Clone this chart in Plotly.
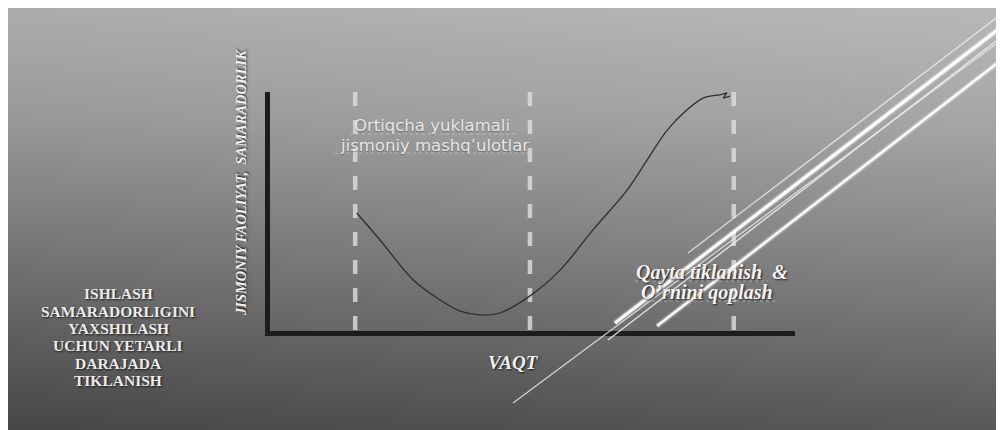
import plotly.graph_objects as go

# The page body keeps the browser's default 8px margin, which gives the white
# border seen on the reference; the figure itself fills the rest of the window.
OFF = 8
W, H = 1004 - OFF, 430 - OFF

# ---------------- data ----------------
# phase boundaries on the time axis (dashed verticals)
phase_times = [1.67, 4.98, 8.84]

# performance curve (time, performance)
curve_t = [1.70, 2.14, 2.77, 3.28, 3.66, 4.03, 4.41, 4.98, 5.55, 6.17, 6.82, 7.20, 7.58, 7.95, 8.26, 8.58]
curve_p = [4.98, 3.86, 2.20, 1.37, 0.91, 0.75, 0.83, 1.54, 2.61, 4.27, 5.93, 7.18, 8.42, 9.25, 9.75, 9.88]

# small end scribble of the curve
tip_t = [8.58, 8.71, 8.64, 8.77]
tip_p = [9.88, 9.96, 9.75, 9.83]

# texts
y_title = "JISMONIY FAOLIYAT,\u00a0\u00a0SAMARADORLIK"
x_title = "VAQT"
overload_lines = ["Ortiqcha yuklamali", "jismoniy mashq\u2019ulotlar"]
recovery_lines = ["Qayta tiklanish\u00a0\u00a0&", "O\u2019rnini qoplash"]
left_lines = ["ISHLASH", "SAMARADORLIGINI", "YAXSHILASH", "UCHUN YETARLI", "DARAJADA", "TIKLANISH"]

# background gradient (gray levels) rows x [left, right]
bg_rows_y = [8, 120, 230, 330, 430]
bg_cols_x = [8, 1004]
bg_gray = [[172, 184], [152, 166], [122, 140], [96, 114], [70, 88]]

# decorative diagonal strokes: (x0, y0, x1, y1, width, color)
deco_lines = [
    (688, 253, 1004, 12, 1.3, "rgba(235,235,235,0.85)"),
    (615, 323, 1004, 25, 3.2, "rgba(255,255,255,0.95)"),
    (608, 340, 1004, 35, 1.5, "rgba(240,240,240,0.85)"),
    (513, 403, 1004, 38, 1.2, "rgba(235,235,235,0.85)"),
    (657, 326, 1004, 58, 2.6, "rgba(255,255,255,0.95)"),
]

# ---------------- figure ----------------
fig = go.Figure()

fig.add_trace(go.Heatmap(
    x=bg_cols_x, y=bg_rows_y, z=bg_gray, zmin=0, zmax=255,
    colorscale=[[0, "rgb(0,0,0)"], [1, "rgb(255,255,255)"]],
    zsmooth="best", showscale=False, hoverinfo="skip",
    xaxis="x", yaxis="y",
))

for t in phase_times:
    fig.add_trace(go.Scatter(
        x=[t, t], y=[10, 0], mode="lines",
        line=dict(color="rgba(222,222,222,0.8)", width=4.5, dash="14px,14px"),
        xaxis="x2", yaxis="y2", hoverinfo="skip", showlegend=False,
    ))

fig.add_trace(go.Scatter(
    x=curve_t, y=curve_p, mode="lines",
    line=dict(color="#2e2e2e", width=1.3, shape="spline", smoothing=1.0),
    xaxis="x2", yaxis="y2", hoverinfo="skip", showlegend=False, cliponaxis=False,
))
fig.add_trace(go.Scatter(
    x=tip_t, y=tip_p, mode="lines",
    line=dict(color="#2e2e2e", width=1.3),
    xaxis="x2", yaxis="y2", hoverinfo="skip", showlegend=False,
))

shapes = []
for (x0, y0, x1, y1, w, c) in deco_lines:
    if w > 2:
        shapes.append(dict(type="line", xref="x", yref="y", x0=x0, y0=y0, x1=x1, y1=y1,
                           line=dict(color="rgba(255,255,255,0.25)", width=w + 3), layer="above"))
    shapes.append(dict(type="line", xref="x", yref="y", x0=x0, y0=y0, x1=x1, y1=y1,
                       line=dict(color=c, width=w), layer="above"))

# faint dotted "spell-check" underlines under the two labels
for (x0, x1, yy) in [(350, 515, 134), (335, 533, 153), (635, 768, 281), (640, 777, 301)]:
    shapes.append(dict(type="line", xref="x", yref="y", x0=x0, y0=yy, x1=x1, y1=yy,
                       line=dict(color="rgba(215,215,215,0.55)", width=1, dash="dot"), layer="above"))

shadow = "1px 1px 2px rgba(0,0,0,0.75)"
serif = "Liberation Serif"
ann = []
# y-axis title
ann.append(dict(x=241, y=183, xref="x", yref="y", text=y_title, textangle=-90, showarrow=False,
                font=dict(family=serif, size=14.5, color="#f2f2f2", weight="bold", style="italic", shadow=shadow)))
# x-axis title
ann.append(dict(x=513, y=362, xref="x", yref="y", text=x_title, showarrow=False,
                font=dict(family=serif, size=19, color="#f2f2f2", weight="bold", style="italic", shadow=shadow)))
# overload phase label
for txt, yy, xx in zip(overload_lines, [125.5, 145], [432, 434]):
    ann.append(dict(x=xx, y=yy, xref="x", yref="y", text=txt, showarrow=False,
                    font=dict(family="DejaVu Sans", size=16.5, color="#e8e8e8",
                              shadow="0px 1px 1px rgba(0,0,0,0.3)")))
# recovery label
for txt, yy, xx in zip(recovery_lines, [272, 292], [712, 707]):
    ann.append(dict(x=xx, y=yy, xref="x", yref="y", text=txt, showarrow=False,
                    font=dict(family=serif, size=20, color="#f4f4f4", weight="bold", style="italic", shadow=shadow)))
# left block
for txt, yy in zip(left_lines, [293, 311, 328, 345, 363, 380]):
    ann.append(dict(x=118, y=yy, xref="x", yref="y", text=txt, showarrow=False,
                    font=dict(family=serif, size=15.5, color="#ececec", weight="bold", shadow=shadow)))

axis_line = dict(showline=True, linecolor="#1c1c1c", linewidth=5, showgrid=False, zeroline=False,
                 showticklabels=False, ticks="", fixedrange=True)

# chart frame in reference pixels; axis lines sit just outside the domain
LEFT, RIGHT, TOP, BOTTOM = 269.5, 795, 92, 330.5

fig.update_layout(
    width=W, height=H,
    margin=dict(l=0, r=0, t=0, b=0),
    paper_bgcolor="white",
    plot_bgcolor="rgba(0,0,0,0)",
    hovermode=False,
    showlegend=False,
    xaxis=dict(domain=[0, 1], range=[OFF, 1004], visible=False, fixedrange=True),
    yaxis=dict(domain=[0, 1], range=[430, OFF], visible=False, fixedrange=True),
    xaxis2=dict(domain=[(LEFT - OFF) / W, (RIGHT - OFF) / W], range=[0.047, 10], anchor="y2", **axis_line),
    yaxis2=dict(domain=[(430 - BOTTOM) / H, (430 - TOP) / H], range=[0.104, 10], anchor="x2", **axis_line),
    shapes=shapes,
    annotations=ann,
)

fig.write_html("out.html", config={"displayModeBar": False})
